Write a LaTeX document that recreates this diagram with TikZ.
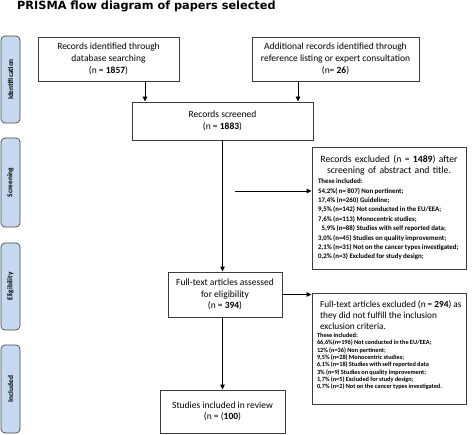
\documentclass[tikz,border=0pt]{standalone}
\usepackage{fontspec}
\setmainfont{Carlito}
\newfontfamily\titlefont{DejaVu Sans}
\usetikzlibrary{arrows.meta}
\definecolor{lblfill}{RGB}{198,217,241}
\definecolor{lbldraw}{RGB}{70,70,70}
\definecolor{boxdraw}{RGB}{60,60,60}
\newcommand\lstrut[2]{\vrule height #1 depth #2 width 0pt\relax}
\newcommand\hA{\lstrut{8.2pt}{3.1pt}}
\newcommand\lA{\lstrut{6.7pt}{2.7pt}}
\newcommand\hB{\lstrut{8pt}{3pt}}
\newcommand\lB{\lstrut{5.3pt}{2pt}}
\begin{document}
\begin{tikzpicture}[x=1pt,y=-1pt,
  box/.style={draw=boxdraw, line width=0.9pt, inner sep=0pt, align=center,
    font=\fontsize{9.5}{11.7}\selectfont},
  exbox/.style={draw=boxdraw, line width=0.9pt, inner xsep=3pt, inner ysep=0pt,
    align=left, text width=148pt},
  phase/.style={draw=lbldraw, fill=lblfill, rounded corners=4pt, line width=0.7pt,
    inner sep=0pt, minimum height=19pt, rotate=90,
    font=\bfseries\fontsize{7.4}{8}\selectfont},
  arr/.style={-{Triangle[length=5pt,width=4.5pt]}, line width=0.9pt},
  head/.style={font=\titlefont\bfseries\fontsize{11.3}{13}\selectfont, anchor=base west, inner sep=0pt}
]
\useasboundingbox (0,0) rectangle (473,435);

\node[head] (title) at (17,9.5) {PRISMA flow diagram of papers selected};

% phase labels
\node[phase, minimum width=87pt] (pid) at (10.5,79.5) {Identification};
\node[phase, minimum width=89pt] (pscr) at (10.5,182.5) {Screening};
\node[phase, minimum width=87pt] (pel) at (10.5,286.5) {Eligibility};
\node[phase, minimum width=88pt] (pinc) at (10.5,389) {Included};

% boxes
\node[box, minimum width=141pt, minimum height=44pt] (id1) at (108.5,59)
  {Records identified through\\database searching\\(n = \textbf{1857})};
\node[box, minimum width=167pt, minimum height=44pt] (id2) at (335.5,59)
  {Additional records identified through\\reference listing or expert consultation\\(n= \textbf{26})};
\node[box, minimum width=181pt, minimum height=38pt] (scr) at (222.5,121)
  {Records screened\\(n = \textbf{1883})};
\node[exbox, minimum height=122pt] (exc1) at (389,208)
  {\hyphenpenalty=10000 \parskip=0pt \lineskip=0pt \lineskiplimit=0pt
   {\centering\fontsize{9.7}{11.3}\selectfont \hA Records excluded (n = \textbf{1489}) after\par \hA screening of abstract and title.\par}
   {\raggedright\leftskip=3pt\bfseries\fontsize{6.9}{9.4}\selectfont\spaceskip=0.2em\relax
   \lA These included:\par
   \lA 54,2\%( n= 807) Non pertinent;\par
   \lA 17,4\% (n=260) Guideline;\par
   \lA 9,5\% (n=142) Not conducted in the EU/EEA;\par
   \lA 7,6\% (n=113) Monocentric studies;\par
   \lA \hphantom{0}5,9\% (n=88) Studies with self reported data;\par
   \lA 3,0\% (n=45) Studies on quality improvement;\par
   \lA 2,1\% (n=31) Not on the cancer types investigated;\par
   \lA 0,2\% (n=3) Excluded for study design;\par}};
\node[box, minimum width=114pt, minimum height=45pt] (full) at (225,294.5)
  {Full-text articles assessed\\for eligibility\\(n = \textbf{394})};
\node[exbox, minimum height=111pt] (exc2) at (389,348.5)
  {\hyphenpenalty=10000 \parskip=0pt \lineskip=0pt \lineskiplimit=0pt
   {\raggedright\leftskip=5pt\fontsize{9.3}{11}\selectfont\spaceskip=0.22em\relax
   \hB\mbox{Full-text articles excluded (n = \textbf{294}) as}\par
   \hB they did not fulfill the inclusion\par
   \hB exclusion criteria.\par}
   {\raggedright\leftskip=2pt\bfseries\fontsize{6.3}{7.3}\selectfont\spaceskip=0.2em\relax
   \lB These included:\par
   \lB 66,6\%(n=196) Not conducted in the EU/EEA;\par
   \lB 12\% (n=36) Non pertinent;\par
   \lB 9,5\% (n=28) Monocentric studies;\par
   \lB 6,1\% (n=18) Studies with self reported data\par
   \lB 3\% (n=9) Studies on quality improvement;\par
   \lB 1,7\% (n=5) Excluded for study design;\par
   \lstrut{5.3pt}{9pt}0,7\% (n=2) Not on the cancer types investigated.\par}};
\node[box, minimum width=125pt, minimum height=43pt] (inc) at (222.5,411.5)
  {Studies included in review\\(n = (\textbf{100})};

% connectors
\coordinate (c1) at (145,0);
\coordinate (c2) at (298,0);
\coordinate (b1) at (235,191);
\draw[arr] (id1.south -| c1) -- (scr.north -| c1);
\draw[arr] (id2.south -| c2) -- (scr.north -| c2);
\draw[arr] (scr.south -| inc.north) -- (full.north -| inc.north);
\draw[arr] (b1) -- (b1 -| exc1.west);
\draw[arr] (full.east) -- (full.east -| exc2.west);
\draw[arr] (full.south -| inc.north) -- (inc.north);
\end{tikzpicture}
\end{document}
